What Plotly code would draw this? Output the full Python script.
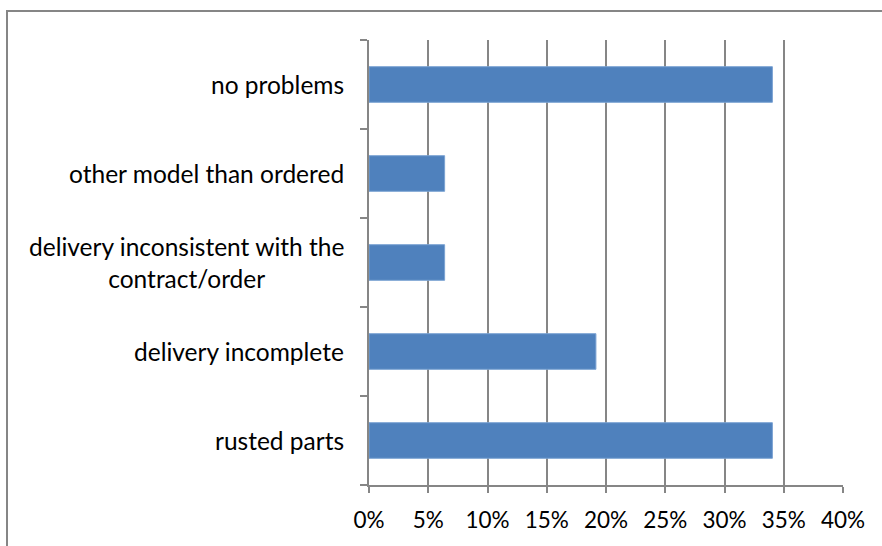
import plotly.graph_objects as go

categories = [
    "rusted parts",
    "delivery incomplete",
    "delivery inconsistent with the<br>contract/order",
    "other model than ordered",
    "no problems",
]
values = [16 / 47, 9 / 47, 3 / 47, 3 / 47, 16 / 47]
x_ticks = [0, 0.05, 0.10, 0.15, 0.20, 0.25, 0.30, 0.35, 0.40]
x_labels = ["0%", "5%", "10%", "15%", "20%", "25%", "30%", "35%", "40%"]

W, H = 882, 546
L, R, T, B = 369, 39, 40, 61
pw, ph = W - L - R, H - T - B

FONT = "Lato, Carlito, Calibri, sans-serif"
GRAY = "#868686"

fig = go.Figure()
fig.add_trace(go.Bar(
    x=values, y=categories, orientation="h",
    marker=dict(color="#4F81BD", line=dict(color="#7BA3D3", width=1)),
    width=0.4,
))

for c in categories:
    fig.add_annotation(
        x=(346 - L) / pw, xref="paper", y=c, yref="y",
        text=c, showarrow=False, xanchor="right", yanchor="middle",
        align="center", font=dict(family=FONT, size=24.5, color="#000000"),
    )

fig.add_shape(
    type="rect", xref="paper", yref="paper",
    x0=(7 - L) / pw, x1=(W + 3 - L) / pw,
    y0=(H - B - 11) / ph, y1=(H - B - (H + 3)) / ph,
    line=dict(color=GRAY, width=2), fillcolor="rgba(0,0,0,0)", layer="below",
)

fig.update_layout(
    width=W, height=H,
    margin=dict(l=L, r=R, t=T, b=B, pad=0),
    paper_bgcolor="white", plot_bgcolor="white",
    showlegend=False,
    font=dict(family=FONT, size=20, color="#000000"),
    xaxis=dict(
        range=[0, 0.4], tickvals=x_ticks, ticktext=x_labels,
        showgrid=True, gridcolor=GRAY, gridwidth=2,
        showline=True, linecolor=GRAY, linewidth=2,
        ticks="outside", ticklen=6, tickcolor=GRAY, tickwidth=2,
        ticklabelstandoff=8,
        zeroline=False, fixedrange=True,
        tickfont=dict(family=FONT, size=22.5, color="#000000"),
    ),
    yaxis=dict(
        categoryorder="array", categoryarray=categories,
        showticklabels=False, tickson="boundaries",
        ticks="outside", ticklen=7, tickcolor=GRAY, tickwidth=2,
        showline=True, linecolor=GRAY, linewidth=2,
        showgrid=False, zeroline=False, fixedrange=True,
    ),
)

fig.write_html("out.html")
